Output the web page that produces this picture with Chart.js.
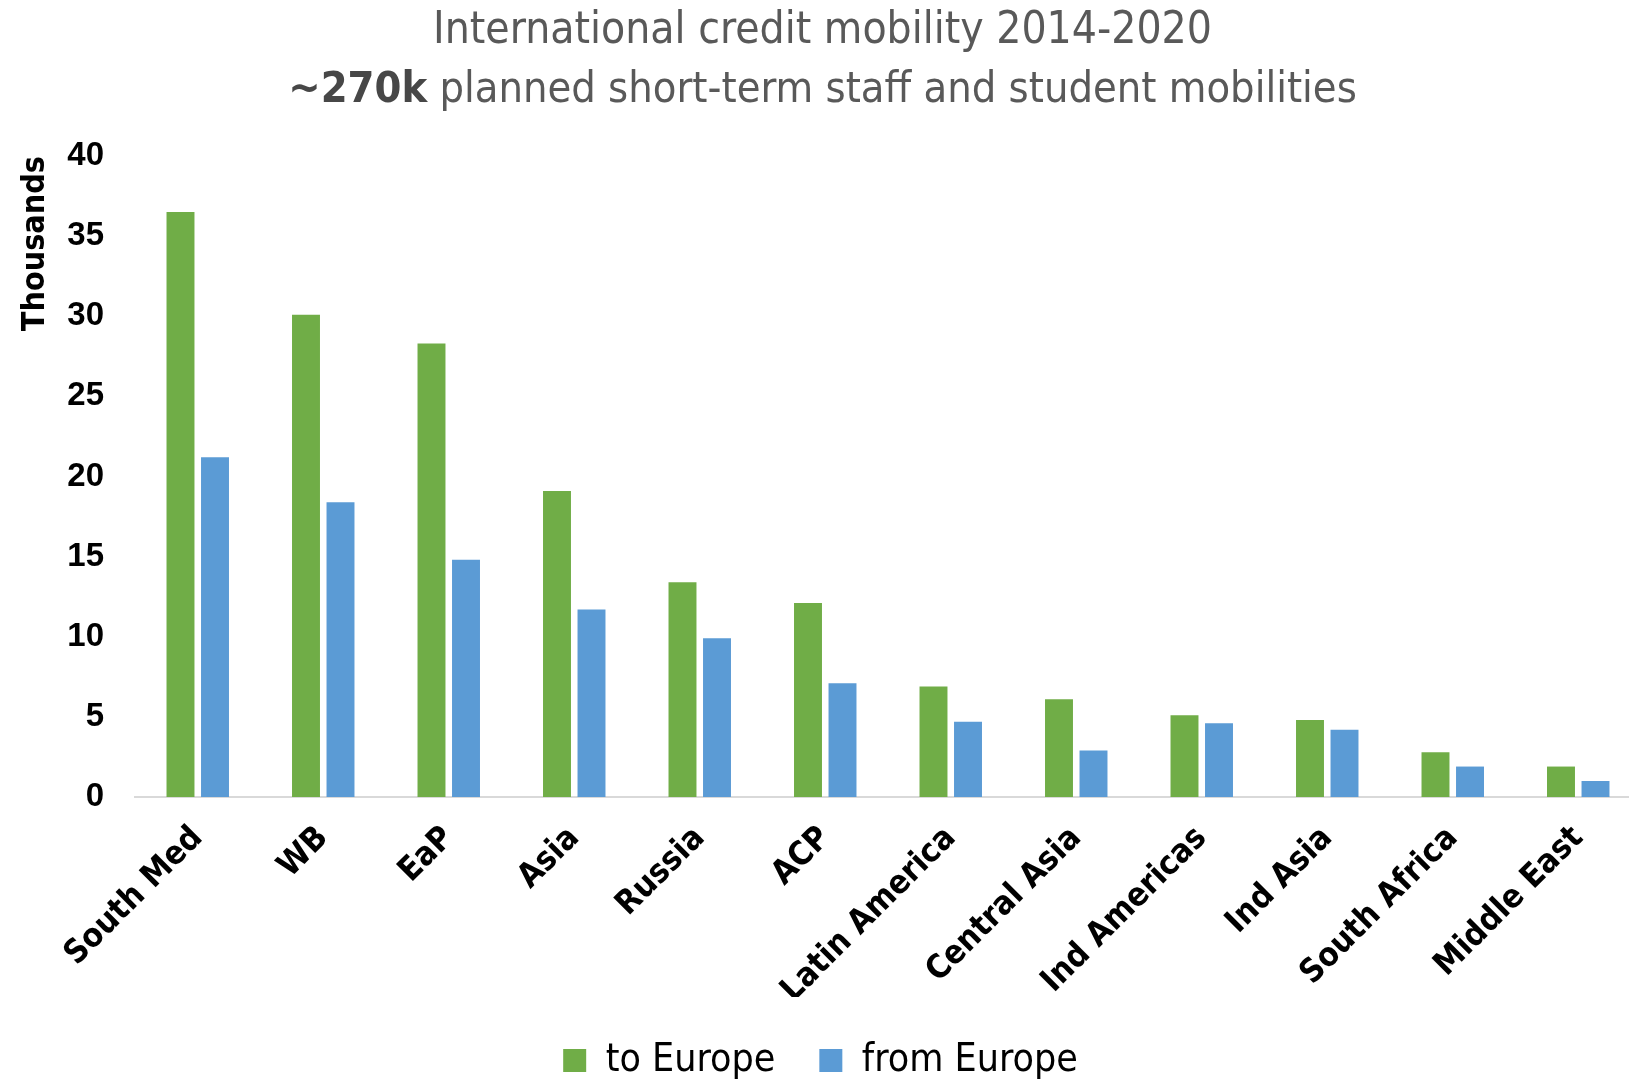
<!DOCTYPE html>
<html>
<head>
<meta charset="utf-8">
<script src="https://cdn.jsdelivr.net/npm/chart.js@4.4.1/dist/chart.umd.min.js"></script>
<style>
    html, body { margin: 0; padding: 0; background: #ffffff; overflow: hidden; }
    #wrap { width: 1645px; height: 1100px; }
</style>
</head>
<body>
<div id="wrap"><canvas id="myChart" width="1645" height="1100"></canvas></div>
<script>
// data (thousands)
var regions = ["South Med", "WB", "EaP", "Asia", "Russia", "ACP", "Latin America", "Central Asia", "Ind Americas", "Ind Asia", "South Africa", "Middle East"];
var toEurope = [36.5, 30.1, 28.3, 19.1, 13.4, 12.1, 6.9, 6.1, 5.1, 4.8, 2.8, 1.9];
var fromEurope = [21.2, 18.4, 14.8, 11.7, 9.9, 7.1, 4.7, 2.9, 4.6, 4.2, 1.9, 1.0];
var yTicks = [0, 5, 10, 15, 20, 25, 30, 35, 40];
var titleLine1 = "International credit mobility 2014-2020";
var titleBold = "~270k";
var titleRest = " planned short-term staff and student mobilities";

var narrow = "'DejaVu Sans Condensed', 'Liberation Sans Narrow', sans-serif";

// two line title, second line has a bold part
var titlePlugin = {
    id: 'twoLineTitle',
    afterDraw: function (chart) {
        var ctx = chart.ctx;
        var cx = chart.width / 2;
        ctx.save();
        ctx.textBaseline = 'middle';
        ctx.fillStyle = '#595959';
        ctx.font = '44px ' + narrow;
        ctx.textAlign = 'center';
        ctx.fillText(titleLine1, cx, 32);

        var boldFont = 'bold 43px ' + narrow;
        var normFont = '43px ' + narrow;
        ctx.font = boldFont;
        var w1 = ctx.measureText(titleBold).width;
        ctx.font = normFont;
        var w2 = ctx.measureText(titleRest).width;
        var x0 = cx - (w1 + w2) / 2;
        ctx.textAlign = 'left';
        ctx.font = boldFont;
        ctx.fillStyle = '#474747';
        ctx.fillText(titleBold, x0, 91);
        ctx.font = normFont;
        ctx.fillStyle = '#595959';
        ctx.fillText(titleRest, x0 + w1, 91);
        ctx.restore();
    }
};

myChart = document.getElementById("myChart");
new Chart(myChart, {
    type: 'bar',
    data: {
        labels: regions,
        datasets: [{
            label: "to Europe",
            data: toEurope,
            backgroundColor: '#70AD47',
            categoryPercentage: 0.55,
            barPercentage: 0.81
        }, {
            label: "from Europe",
            data: fromEurope,
            backgroundColor: '#5B9BD5',
            categoryPercentage: 0.55,
            barPercentage: 0.81
        }]
    },
    options: {
        responsive: false,
        animation: false,
        devicePixelRatio: 1,
        layout: {
            padding: { top: 156, left: 0, right: 4, bottom: 10 }
        },
        plugins: {
            title: { display: false },
            tooltip: { enabled: false },
            legend: {
                position: 'bottom',
                labels: {
                    color: '#000000',
                    font: { family: narrow, size: 39 },
                    boxWidth: 23,
                    boxHeight: 23,
                    padding: 44
                }
            }
        },
        scales: {
            x: {
                grid: { display: false, drawTicks: false },
                border: { display: true, color: '#D9D9D9', width: 2 },
                ticks: {
                    color: '#000000',
                    font: { family: narrow, size: 33, weight: 'bold' },
                    maxRotation: 45,
                    minRotation: 45,
                    padding: 22
                },
                afterFit: function (scale) { scale.height = 200; }
            },
            y: {
                min: 0,
                max: 40,
                grid: { display: false, drawTicks: false },
                border: { display: false },
                afterBuildTicks: function (scale) {
                    scale.ticks = yTicks.map(function (v) { return { value: v }; });
                },
                ticks: {
                    color: '#000000',
                    font: { family: "'Liberation Sans', Arial, sans-serif", size: 33, weight: 'bold' },
                    padding: 31
                },
                title: {
                    display: true,
                    text: 'Thousands',
                    align: 'end',
                    color: '#000000',
                    font: { family: narrow, size: 32, weight: 'bold' },
                    padding: { top: 16, bottom: 0 }
                },
                afterFit: function (scale) { scale.width = 135; }
            }
        }
    },
    plugins: [titlePlugin]
});
</script>
</body>
</html>
